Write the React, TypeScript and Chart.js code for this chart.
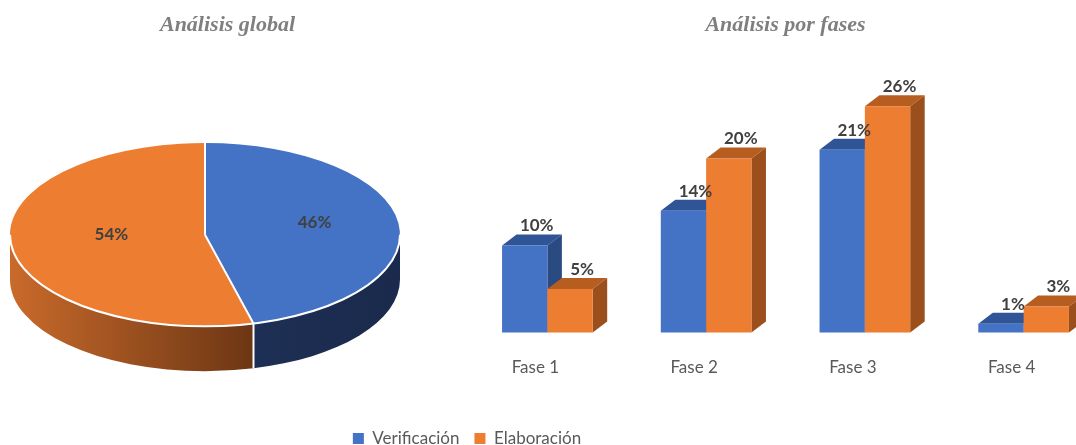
import React, { useEffect, useRef } from 'react';
import { Chart, registerables } from 'chart.js';

Chart.register(...registerables);

// ---------- data ----------
const pieTitle = 'Análisis global';
const barTitle = 'Análisis por fases';
const seriesNames = ['Verificación', 'Elaboración'];
const globalShare = [46, 54];
const phaseLabels = ['Fase 1', 'Fase 2', 'Fase 3', 'Fase 4'];
const verificacion = [10, 14, 21, 1];
const elaboracion = [5, 20, 26, 3];

// ---------- styles ----------
const frontColors = ['#4472C4', '#ED7D31'];
const barTopColors = ['#2F5597', '#B85D20'];
const barSideColors = ['#2A4A82', '#9B4F1C'];
const pieSideLight = ['#1E2F55', '#C96A2B'];
const pieSideDark = ['#1A2A4C', '#6C3614'];
const titleFont = { family: 'Liberation Serif', size: 22, style: 'italic' as const, weight: 'bold' as const };
const titleColor = '#7F7F7F';
const textFont = 'Lato';

const pie3d = {
  id: 'pie3d',
  beforeDatasetsDraw(chart: any, _args: any, opts: any) {
    const meta = chart.getDatasetMeta(0);
    const arcs = meta.data;
    if (!arcs.length) return;
    const ca = chart.chartArea;
    const { x: cx, y: cy, outerRadius: R } = arcs[0].getProps(['x', 'y', 'outerRadius'], true);
    const rx = (ca.right - ca.left) / 2;
    const ry = rx * opts.tilt;
    const depth = rx * opts.depth;
    const ds = chart.data.datasets[0];
    const ctx = chart.ctx;
    const TWO_PI = Math.PI * 2;
    const px = (a: number) => cx + rx * Math.cos(a);
    const py = (a: number) => cy + ry * Math.sin(a);
    ctx.save();
    // side walls
    arcs.forEach((arc: any, i: number) => {
      const { startAngle: s, endAngle: e } = arc.getProps(['startAngle', 'endAngle'], true);
      for (let k = -1; k <= 1; k++) {
        const lo = Math.max(s, TWO_PI * k);
        const hi = Math.min(e, TWO_PI * k + Math.PI);
        if (hi <= lo) continue;
        const x1 = px(lo), x2 = px(hi);
        const g = ctx.createLinearGradient(Math.min(x1, x2), 0, Math.max(x1, x2), 0);
        g.addColorStop(0, ds.sideLight[i]);
        g.addColorStop(1, ds.sideDark[i]);
        ctx.fillStyle = g;
        ctx.beginPath();
        ctx.ellipse(cx, cy, rx, ry, 0, lo, hi, false);
        ctx.ellipse(cx, cy + depth, rx, ry, 0, hi, lo, true);
        ctx.closePath();
        ctx.fill();
      }
    });
    // white separators on the wall
    ctx.strokeStyle = '#FFFFFF';
    ctx.lineWidth = 2;
    arcs.forEach((arc: any) => {
      const { startAngle: s } = arc.getProps(['startAngle'], true);
      if (Math.sin(s) > 0) {
        ctx.beginPath();
        ctx.moveTo(px(s), py(s));
        ctx.lineTo(px(s), py(s) + depth);
        ctx.stroke();
      }
    });
    // top faces (library arcs, projected)
    arcs.forEach((arc: any) => {
      ctx.save();
      ctx.translate(cx, cy);
      ctx.scale(rx / R, ry / R);
      ctx.translate(-cx, -cy);
      arc.draw(ctx);
      ctx.restore();
    });
    // outlines
    ctx.strokeStyle = '#FFFFFF';
    ctx.lineWidth = 2;
    ctx.beginPath();
    ctx.ellipse(cx, cy, rx, ry, 0, 0, Math.PI, false);
    ctx.stroke();
    arcs.forEach((arc: any) => {
      const { startAngle: s } = arc.getProps(['startAngle'], true);
      ctx.beginPath();
      ctx.moveTo(cx, cy);
      ctx.lineTo(px(s), py(s));
      ctx.stroke();
    });
    // labels
    ctx.fillStyle = opts.labelColor;
    ctx.font = opts.labelFont;
    ctx.textAlign = 'center';
    ctx.textBaseline = 'middle';
    arcs.forEach((arc: any, i: number) => {
      const p = arc.tooltipPosition(true);
      const lx = cx + (p.x - cx) * (rx / R) * opts.labelRadius + opts.labelShiftX;
      const ly = cy + (p.y - cy) * (ry / R) * opts.labelRadius + opts.labelShiftY;
      ctx.fillText(`${ds.data[i]}%`, lx, ly);
    });
    ctx.restore();
    return false;
  },
};

const bars3d = {
  id: 'bars3d',
  beforeDatasetsDraw(chart: any, _args: any, opts: any) {
    const ctx = chart.ctx;
    const { dx, dy } = opts;
    ctx.save();
    chart.data.datasets.forEach((ds: any, di: number) => {
      const meta = chart.getDatasetMeta(di);
      if (meta.hidden) return;
      meta.data.forEach((bar: any) => {
        const { x, y, base, width } = bar.getProps(['x', 'y', 'base', 'width'], true);
        const left = x - width / 2;
        const right = x + width / 2;
        ctx.fillStyle = ds.topColor;
        ctx.beginPath();
        ctx.moveTo(left, y);
        ctx.lineTo(left + dx, y - dy);
        ctx.lineTo(right + dx, y - dy);
        ctx.lineTo(right, y);
        ctx.closePath();
        ctx.fill();
        ctx.fillStyle = ds.sideColor;
        ctx.beginPath();
        ctx.moveTo(right, y);
        ctx.lineTo(right + dx, y - dy);
        ctx.lineTo(right + dx, base - dy);
        ctx.lineTo(right, base);
        ctx.closePath();
        ctx.fill();
        bar.draw(ctx);
      });
    });
    ctx.fillStyle = opts.labelColor;
    ctx.font = opts.labelFont;
    ctx.textAlign = 'center';
    ctx.textBaseline = 'middle';
    chart.data.datasets.forEach((ds: any, di: number) => {
      const meta = chart.getDatasetMeta(di);
      if (meta.hidden) return;
      meta.data.forEach((bar: any, i: number) => {
        const { x, y } = bar.getProps(['x', 'y'], true);
        ctx.fillText(`${ds.data[i]}%`, x + opts.labelDx, y - opts.labelDy);
      });
    });
    ctx.restore();
    return false;
  },
};

export default function App() {
  const pieRef = useRef<HTMLCanvasElement>(null);
  const barRef = useRef<HTMLCanvasElement>(null);

  useEffect(() => {
    document.body.style.margin = '0';
    const pie = new Chart(pieRef.current as HTMLCanvasElement, {
      type: 'pie',
      data: {
        labels: seriesNames,
        datasets: [
          {
            data: globalShare,
            backgroundColor: frontColors,
            borderWidth: 0,
            sideLight: pieSideLight,
            sideDark: pieSideDark,
          } as any,
        ],
      },
      options: {
        responsive: false,
        animation: false,
        devicePixelRatio: 1,
        events: [],
        layout: { padding: 0 },
        scales: {
          spacer: {
            type: 'linear',
            position: 'right',
            display: true,
            grid: { display: false, drawTicks: false },
            border: { display: false },
            ticks: { display: false },
            afterFit: (s: any) => {
              s.width = 45;
            },
          },
        } as any,
        plugins: {
          legend: { display: false },
          tooltip: { enabled: false },
          title: {
            display: true,
            text: pieTitle,
            color: titleColor,
            font: titleFont,
            padding: { top: 12, bottom: 20 },
          },
          pie3d: {
            tilt: 0.47,
            depth: 0.23,
            labelRadius: 1.05,
            labelShiftX: 8,
            labelShiftY: -6,
            labelColor: '#404040',
            labelFont: `bold 17px ${textFont}`,
          },
        } as any,
      },
      plugins: [pie3d],
    });

    const bar = new Chart(barRef.current as HTMLCanvasElement, {
      type: 'bar',
      data: {
        labels: phaseLabels,
        datasets: [
          {
            label: seriesNames[0],
            data: verificacion,
            backgroundColor: frontColors[0],
            borderWidth: 0,
            topColor: barTopColors[0],
            sideColor: barSideColors[0],
          } as any,
          {
            label: seriesNames[1],
            data: elaboracion,
            backgroundColor: frontColors[1],
            borderWidth: 0,
            topColor: barTopColors[1],
            sideColor: barSideColors[1],
          } as any,
        ],
      },
      options: {
        responsive: false,
        animation: false,
        devicePixelRatio: 1,
        events: [],
        layout: { padding: 0 },
        datasets: { bar: { categoryPercentage: 0.571, barPercentage: 1 } },
        scales: {
          x: {
            offset: true,
            grid: { display: false, drawTicks: false },
            border: { display: false },
            ticks: {
              color: '#595959',
              font: { family: textFont, size: 17 },
              padding: 25,
              labelOffset: -12,
              maxRotation: 0,
              autoSkip: false,
            },
            afterFit: (s: any) => {
              s.height = 82.5;
            },
          },
          y: {
            min: 0,
            max: 31.5,
            display: true,
            grid: { display: false, drawTicks: false },
            border: { display: false },
            ticks: { display: false },
            afterFit: (s: any) => {
              s.width = 637;
            },
          },
        },
        plugins: {
          legend: {
            position: 'bottom',
            labels: {
              boxWidth: 11,
              boxHeight: 11,
              padding: 15,
              color: '#595959',
              font: { family: textFont, size: 17 },
            },
          },
          tooltip: { enabled: false },
          title: {
            display: true,
            text: barTitle,
            fullSize: false,
            color: titleColor,
            font: titleFont,
            padding: { top: 12, bottom: 20 },
          },
          bars3d: {
            dx: 14.5,
            dy: 11,
            labelDx: 12,
            labelDy: 19.5,
            labelColor: '#404040',
            labelFont: `bold 17px ${textFont}`,
          },
        } as any,
      },
      plugins: [bars3d],
    });

    return () => {
      pie.destroy();
      bar.destroy();
    };
  }, []);

  return (
    <div
      style={{
        position: 'fixed',
        left: 0,
        top: 0,
        width: 1076,
        height: 445,
        overflow: 'hidden',
        background: '#FFFFFF',
      }}
    >
      <canvas
        ref={pieRef}
        width={435}
        height={411}
        style={{ position: 'absolute', left: 10, top: 0, width: 435, height: 411 }}
      />
      <canvas
        ref={barRef}
        width={1272}
        height={457}
        style={{ position: 'absolute', left: -169, top: 0, width: 1272, height: 457 }}
      />
    </div>
  );
}
